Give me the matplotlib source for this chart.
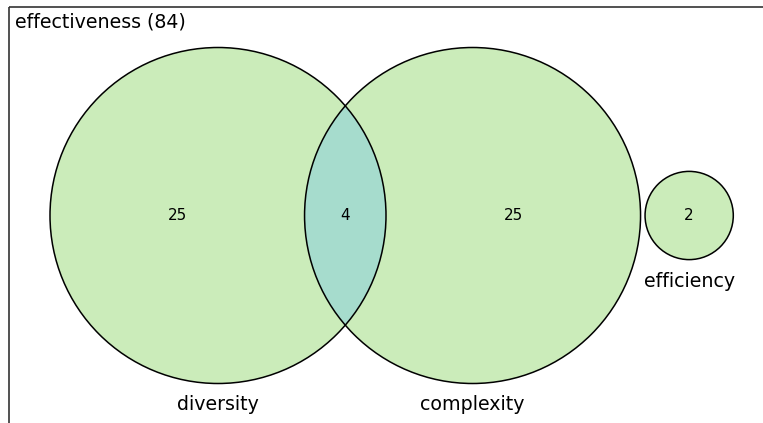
import numpy as np
import matplotlib
matplotlib.use('Agg')
import matplotlib.pyplot as plt
from matplotlib.patches import Circle, Rectangle

# data
title = 'effectiveness (84)'
set_names = ['diversity', 'complexity', 'efficiency']
only_counts = [25, 25, 2]      # diversity only, complexity only, efficiency only
overlap_count = 4              # diversity & complexity

fill_col = '#cbecba'
overlap_col = '#a6dccd'


def lens_area(r, d):
    # intersection area of two equal circles of radius r at distance d
    return 2 * r**2 * np.arccos(d / (2 * r)) - (d / 2) * np.sqrt(4 * r**2 - d**2)


def solve_distance(r, area):
    lo, hi = 0.0, 2 * r
    for _ in range(60):
        mid = (lo + hi) / 2
        if lens_area(r, mid) > area:
            lo = mid
        else:
            hi = mid
    return (lo + hi) / 2


fig = plt.figure(figsize=(7.63, 4.23), dpi=100)
ax = fig.add_axes([0, 0, 1, 1])
ax.set_xlim(0, 763)
ax.set_ylim(423, 0)
ax.axis('off')

# frame, clipped by the figure on the right and bottom
ax.add_patch(Rectangle((8.5, 7.5), 900, 600, facecolor='none', edgecolor='#333333', lw=1.2))
ax.text(15, 22, title, fontsize=13.7, va='center', ha='left')

# area-proportional radii
totals = [only_counts[0] + overlap_count, only_counts[1] + overlap_count, only_counts[2]]
scale = 168.0 / np.sqrt(totals[0])
radii = [scale * np.sqrt(t) for t in totals]
unit_area = np.pi * radii[0]**2 / totals[0]
d = solve_distance(radii[0], overlap_count * unit_area)

cy = 215.5
cx0 = 218
cx1 = cx0 + d
cx2 = cx1 + radii[1] + 4.5 + radii[2]
centres = [cx0, cx1, cx2]

c0 = Circle((cx0, cy), radii[0], facecolor=fill_col, edgecolor='none')
c1 = Circle((cx1, cy), radii[1], facecolor=fill_col, edgecolor='none')
c2 = Circle((cx2, cy), radii[2], facecolor=fill_col, edgecolor='none')
for c in (c0, c1, c2):
    ax.add_patch(c)

# overlap region: second circle clipped by the first
lens = Circle((cx1, cy), radii[1], facecolor=overlap_col, edgecolor='none')
ax.add_patch(lens)
lens.set_clip_path(c0)

for cx, r in zip(centres, radii):
    ax.add_patch(Circle((cx, cy), r, facecolor='none', edgecolor='black', lw=1.1))

# counts
left_x = ((cx0 - radii[0]) + (cx1 - radii[1])) / 2
right_x = ((cx0 + radii[0]) + (cx1 + radii[1])) / 2
mid_x = (cx0 + cx1) / 2
ax.text(left_x, cy, str(only_counts[0]), ha='center', va='center', fontsize=11)
ax.text(right_x, cy, str(only_counts[1]), ha='center', va='center', fontsize=11)
ax.text(mid_x, cy, str(overlap_count), ha='center', va='center', fontsize=11)
ax.text(cx2, cy, str(only_counts[2]), ha='center', va='center', fontsize=11)

# set names under circles
for name, cx, r in zip(set_names, centres, radii):
    ax.text(cx, cy + r + 21.5, name, ha='center', va='center', fontsize=13.7)

fig.savefig('out.png', dpi=100)
